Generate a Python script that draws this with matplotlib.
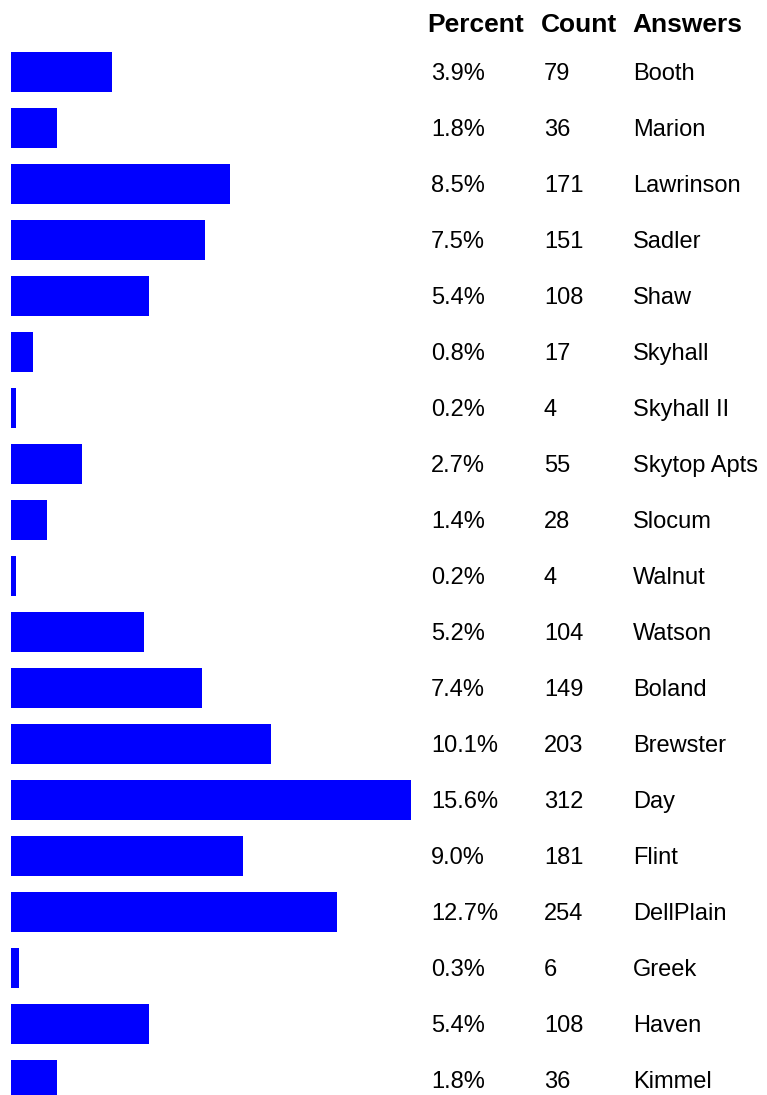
import matplotlib
matplotlib.use("Agg")
import matplotlib.pyplot as plt
import matplotlib.transforms as mtransforms

answers = ["Booth", "Marion", "Lawrinson", "Sadler", "Shaw", "Skyhall", "Skyhall II",
           "Skytop Apts", "Slocum", "Walnut", "Watson", "Boland", "Brewster", "Day",
           "Flint", "DellPlain", "Greek", "Haven", "Kimmel"]
counts = [79, 36, 171, 151, 108, 17, 4, 55, 28, 4, 104, 149, 203, 312, 181, 254, 6, 108, 36]
percents = [3.9, 1.8, 8.5, 7.5, 5.4, 0.8, 0.2, 2.7, 1.4, 0.2, 5.2, 7.4, 10.1, 15.6,
            9.0, 12.7, 0.3, 5.4, 1.8]
headers = ["Percent", "Count", "Answers"]

W, H = 767, 1095
plt.rcParams['font.family'] = ['Liberation Sans', 'DejaVu Sans']

fig = plt.figure(figsize=(W / 100, H / 100), dpi=100)
ax = fig.add_axes([0, 0, 1, 1])
ax.axis('off')

# bars start at px 11, longest (312) ends at px 411; rows are 56 px apart
px_per_count = 400 / max(counts)
ax.set_xlim(-11 / px_per_count, (W - 11) / px_per_count)
ax.set_ylim((H - 72) / 56, -72 / 56)

rows = list(range(len(answers)))
ax.barh(rows, counts, height=40 / 56, left=0, color='#0000ff')

# text columns: x in figure pixels, y in rows
trans = mtransforms.blended_transform_factory(ax.transAxes, ax.transData)
col_x = [427, 541, 632]
body_x = [431, 544, 633]
for x, h in zip(col_x, headers):
    ax.text(x / W, -1 + (31.5 - 16) / 56, h, transform=trans, fontsize=19,
            fontweight='bold', ha='left', va='baseline')

for i in rows:
    yb = i + 8 / 56
    ax.text(body_x[0] / W, yb, "%.1f%%" % percents[i], transform=trans,
            fontsize=17, ha='left', va='baseline')
    ax.text(body_x[1] / W, yb, str(counts[i]), transform=trans,
            fontsize=17, ha='left', va='baseline')
    ax.text(body_x[2] / W, yb, answers[i], transform=trans,
            fontsize=17, ha='left', va='baseline')

fig.savefig("out.png", dpi=100)
